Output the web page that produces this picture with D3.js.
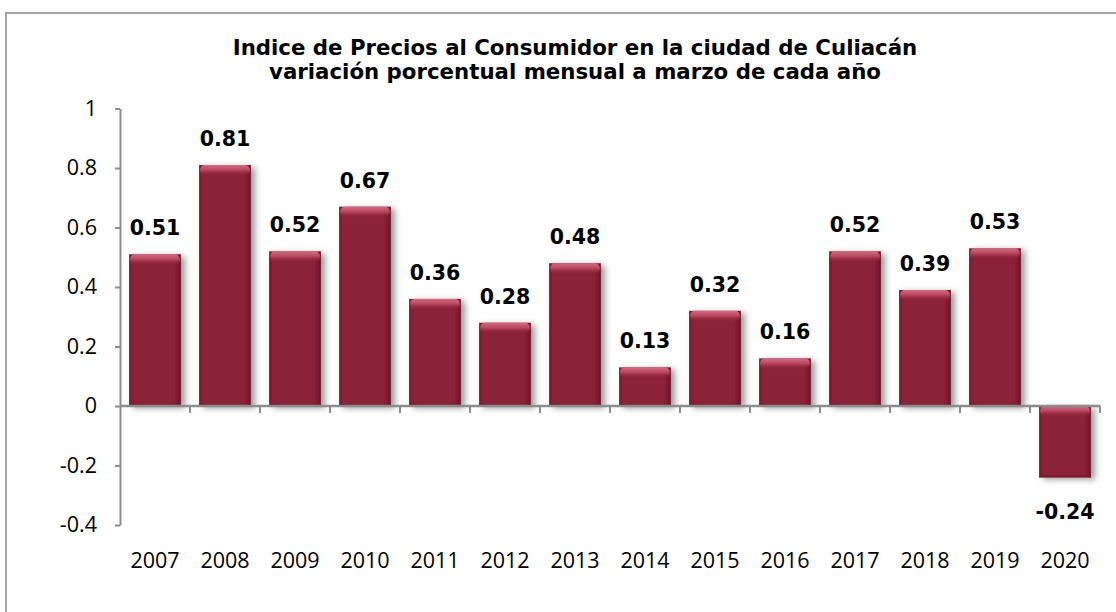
<!DOCTYPE html>
<html><head><meta charset="utf-8">
<script src="https://cdn.jsdelivr.net/npm/d3@7"></script>
<style>
html,body{margin:0;padding:0;background:#fff;}
svg{display:block;}
</style></head>
<body>
<script>
const categories = ["2007","2008","2009","2010","2011","2012","2013","2014","2015","2016","2017","2018","2019","2020"];
const values = [0.51,0.81,0.52,0.67,0.36,0.28,0.48,0.13,0.32,0.16,0.52,0.39,0.53,-0.24];
const yTicks = [-0.4,-0.2,0,0.2,0.4,0.6,0.8,1];
const titleLines = ["Indice de Precios al Consumidor en la ciudad de Culiacán","variación porcentual mensual a marzo de cada año"];

const W = 1116, H = 612;
const svg = d3.select("body").append("svg").attr("width", W).attr("height", H);

const defs = svg.append("defs");
const body = defs.append("linearGradient").attr("id","barBody").attr("x1","0").attr("x2","1").attr("y1","0").attr("y2","0");
body.append("stop").attr("offset","0").attr("stop-color","#761a2f");
body.append("stop").attr("offset","0.08").attr("stop-color","#8c2139");
body.append("stop").attr("offset","0.88").attr("stop-color","#8c2139");
body.append("stop").attr("offset","1").attr("stop-color","#6a1428");
const bev = defs.append("linearGradient").attr("id","barTop").attr("x1","0").attr("x2","0").attr("y1","0").attr("y2","1");
bev.append("stop").attr("offset","0").attr("stop-color","#d26c83");
bev.append("stop").attr("offset","0.45").attr("stop-color","#b9475f");
bev.append("stop").attr("offset","1").attr("stop-color","#8c2139").attr("stop-opacity","0");
const bot = defs.append("linearGradient").attr("id","barBot").attr("x1","0").attr("x2","0").attr("y1","0").attr("y2","1");
bot.append("stop").attr("offset","0").attr("stop-color","#8c2139").attr("stop-opacity","0");
bot.append("stop").attr("offset","1").attr("stop-color","#6a1428");
const f = defs.append("filter").attr("id","shadow").attr("x","-30%").attr("y","-30%").attr("width","160%").attr("height","160%");
f.append("feDropShadow").attr("dx",4).attr("dy",2).attr("stdDeviation",3).attr("flood-color","#000").attr("flood-opacity",0.4);

// outer frame (extends beyond the view on right/bottom)
svg.append("path").attr("d","M6,620 V13 H1130").attr("fill","none").attr("stroke","#a6a6a6").attr("stroke-width",2);

const x = d3.scaleBand().domain(categories).range([120,1100]).paddingInner(0.26).paddingOuter(0.13);
const y = d3.scaleLinear().domain([-0.4,1]).range([525,108.5]);

// title
svg.append("g").selectAll("text").data(titleLines).join("text")
  .attr("x",575).attr("y",(d,i)=>55+i*24)
  .attr("text-anchor","middle")
  .attr("font-family","DejaVu Sans").attr("font-weight","bold").attr("font-size",21.3)
  .attr("fill","#000").text(d=>d);

// bars
const bars = svg.append("g").selectAll("g").data(values).join("g");
bars.append("rect")
  .attr("x",(d,i)=>x(categories[i])).attr("width",x.bandwidth())
  .attr("y",d=>y(Math.max(0,d))).attr("height",d=>Math.abs(y(d)-y(0)))
  .attr("fill","url(#barBody)").attr("filter","url(#shadow)");
bars.append("rect")
  .attr("x",(d,i)=>x(categories[i])+1).attr("width",x.bandwidth()-2)
  .attr("y",d=>y(Math.max(0,d))).attr("height",d=>Math.min(11,Math.abs(y(d)-y(0))))
  .attr("rx",5)
  .attr("fill","url(#barTop)");
bars.append("rect")
  .attr("x",(d,i)=>x(categories[i])).attr("width",x.bandwidth())
  .attr("y",d=>y(Math.min(0,d))-4).attr("height",4)
  .attr("fill","url(#barBot)");

// data labels
svg.append("g").selectAll("text").data(values).join("text")
  .attr("x",(d,i)=>x(categories[i])+x.bandwidth()/2)
  .attr("y",d=> d>=0 ? y(d)-19 : y(d)+42)
  .attr("text-anchor","middle")
  .attr("font-family","DejaVu Sans").attr("font-weight","bold").attr("font-size",20.5)
  .attr("fill","#000").text(d=>d.toFixed(2));

// y axis
const axisColor = "#8c8c8c";
const yAxis = svg.append("g").attr("transform","translate(120,0)")
  .call(d3.axisLeft(y).tickValues(yTicks).tickSize(5).tickSizeOuter(0).tickPadding(18).tickFormat(d=>String(+d.toFixed(1))));
yAxis.select(".domain").attr("stroke",axisColor).attr("stroke-width",2);
yAxis.selectAll(".tick line").attr("stroke",axisColor).attr("stroke-width",2);
yAxis.selectAll("text").attr("font-family","Open Sans").attr("font-size",21.5).attr("fill","#000");

// x axis at zero
const boundaries = categories.map((c,i)=>120 + (i+1)*(980/categories.length));
const xg = svg.append("g");
xg.append("line").attr("x1",120).attr("x2",1100).attr("y1",y(0)).attr("y2",y(0)).attr("stroke",axisColor).attr("stroke-width",2.5);
xg.selectAll("line.t").data(boundaries).join("line").attr("class","t")
  .attr("x1",d=>d).attr("x2",d=>d).attr("y1",y(0)).attr("y2",y(0)+7).attr("stroke",axisColor).attr("stroke-width",2);
svg.append("g").selectAll("text").data(categories).join("text")
  .attr("x",d=>x(d)+x.bandwidth()/2).attr("y",568)
  .attr("text-anchor","middle")
  .attr("font-family","Open Sans").attr("font-size",21.5).attr("fill","#000").text(d=>d);
</script>
</body></html>
